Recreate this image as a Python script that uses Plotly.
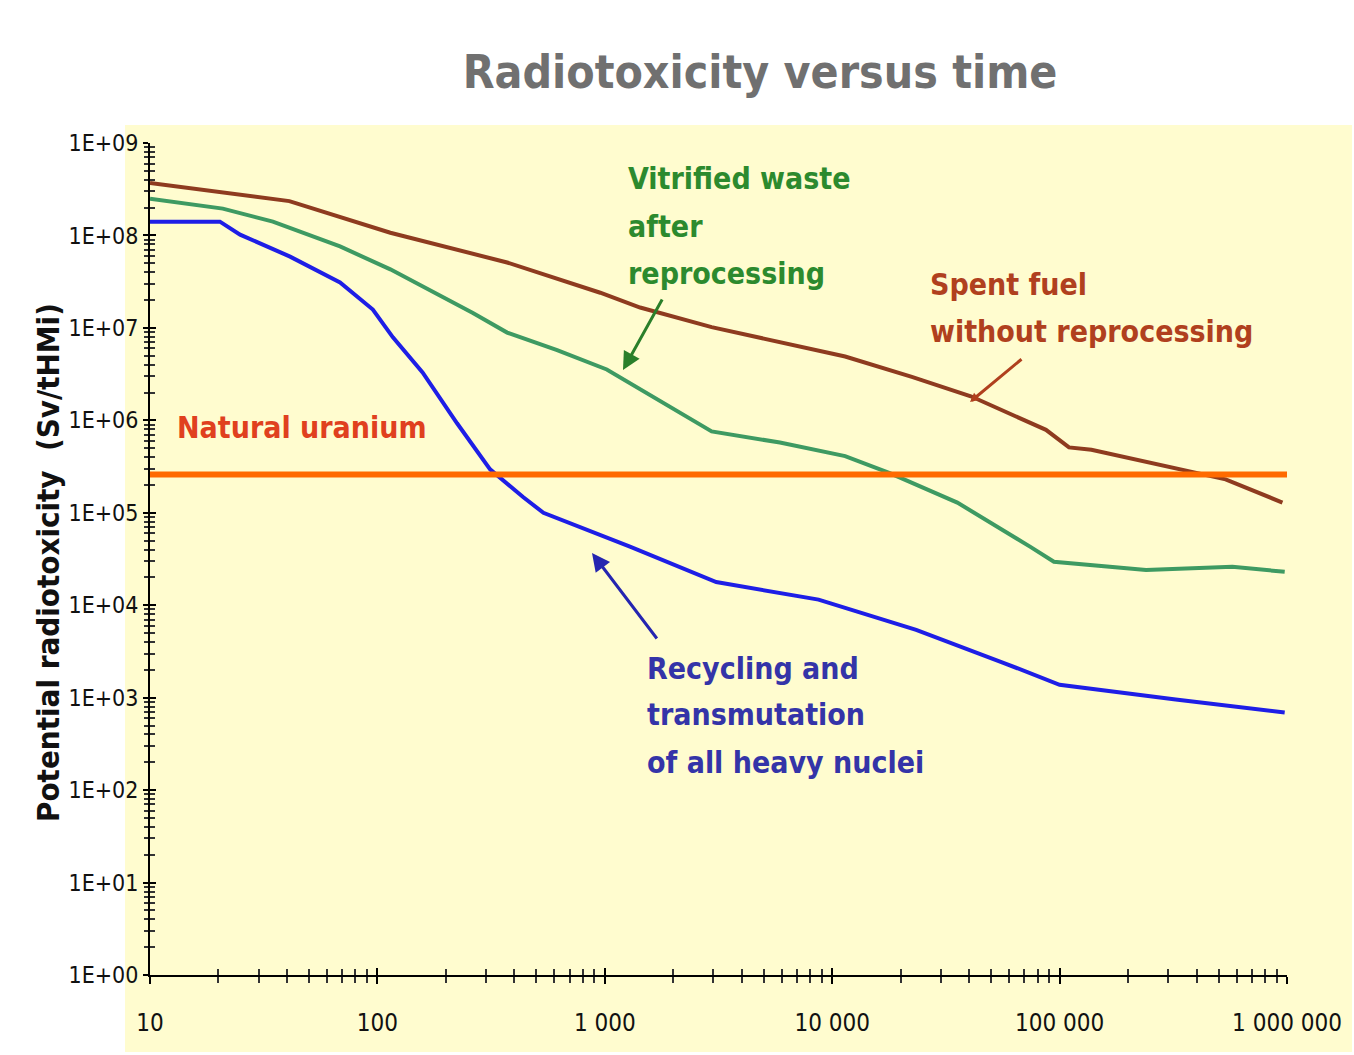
import plotly.graph_objects as go

# ---------------- data ----------------
spent_fuel_t = [10, 20.9, 41, 114, 372, 955, 1430, 2950, 11400, 22400, 40700, 87100, 110000, 138000, 339000, 537000, 955000]
spent_fuel_v = [3.7e8, 2.95e8, 2.35e8, 1.07e8, 5.1e7, 2.4e7, 1.66e7, 1.02e7, 4.9e6, 2.95e6, 1.82e6, 7.9e5, 5.1e5, 4.8e5, 2.95e5, 2.3e5, 1.29e5]

vitrified_t = [10, 20.9, 34.7, 68.5, 114, 263, 372, 617, 1020, 1510, 2950, 5890, 11400, 17800, 35500, 74100, 94400, 240000, 575000, 977000]
vitrified_v = [2.5e8, 1.95e8, 1.41e8, 7.6e7, 4.3e7, 1.45e7, 8.9e6, 5.75e6, 3.55e6, 2.0e6, 7.6e5, 5.75e5, 4.1e5, 2.7e5, 1.29e5, 4.3e4, 2.95e4, 2.4e4, 2.6e4, 2.3e4]

recycling_t = [10, 20.3, 24.9, 41.3, 68.5, 95.5, 117, 158, 224, 313, 437, 537, 1290, 3090, 8710, 23400, 56200, 100000, 324000, 977000]
recycling_v = [1.41e8, 1.41e8, 1.02e8, 5.9e7, 3.1e7, 1.58e7, 7.9e6, 3.3e6, 9.3e5, 2.95e5, 1.48e5, 1.0e5, 4.3e4, 1.78e4, 1.15e4, 5.4e3, 2.4e3, 1.38e3, 955, 692]

uranium_t = [10, 1000000]
uranium_v = [2.6e5, 2.6e5]

x_tick_vals = [10, 100, 1000, 10000, 100000, 1000000]
x_tick_text = ["10", "100", "1 000", "10 000", "100 000", "1 000 000"]
y_tick_vals = [1, 10, 100, 1e3, 1e4, 1e5, 1e6, 1e7, 1e8, 1e9]
y_tick_text = ["1E+00", "1E+01", "1E+02", "1E+03", "1E+04", "1E+05", "1E+06", "1E+07", "1E+08", "1E+09"]

# ---------------- style ----------------
FONT = "DejaVu Sans Condensed, Liberation Sans Narrow, Arial Narrow, Liberation Sans, sans-serif"
BG = "#FFFCCF"
W, H = 1354, 1055
L, R, T, B = 150, 67, 143, 80
PW, PH = W - L - R, H - T - B


def px(xp):
    return (xp - L) / PW


def py(yp):
    return (H - B - yp) / PH


fig = go.Figure()
fig.add_trace(go.Scatter(x=spent_fuel_t, y=spent_fuel_v, mode="lines",
                         line=dict(color="#8E3B1F", width=4), name="Spent fuel"))
fig.add_trace(go.Scatter(x=vitrified_t, y=vitrified_v, mode="lines",
                         line=dict(color="#3E9A62", width=4), name="Vitrified"))
fig.add_trace(go.Scatter(x=recycling_t, y=recycling_v, mode="lines",
                         line=dict(color="#1E1EE6", width=4), name="Recycling"))
fig.add_trace(go.Scatter(x=uranium_t, y=uranium_v, mode="lines",
                         line=dict(color="#FF6A00", width=6), name="Natural uranium"))
# helper trace for crossing-tick overlay axes
fig.add_trace(go.Scatter(x=[10], y=[1], xaxis="x2", yaxis="y2", mode="markers",
                         marker=dict(opacity=0), hoverinfo="skip", showlegend=False))

xtickfont = dict(family=FONT, size=24, color="#111111")
ytickfont = dict(family=FONT, size=23, color="#111111")

fig.update_layout(
    width=W, height=H,
    margin=dict(l=L, r=R, t=T, b=B, autoexpand=False),
    paper_bgcolor="white",
    plot_bgcolor=BG,
    showlegend=False,
    title=dict(text="<b>Radiotoxicity versus time</b>", x=760 / W, xanchor="center",
               y=1 - 72 / H, yanchor="middle",
               font=dict(family=FONT, size=46, color="#707070")),
    xaxis=dict(type="log", range=[1, 6], showgrid=False, zeroline=False, automargin=False,
               showline=True, linecolor="black", linewidth=2,
               ticks="outside", ticklen=7, tickwidth=2, tickcolor="black",
               tickvals=x_tick_vals, ticktext=x_tick_text, tickfont=xtickfont,
               ticklabelstandoff=18,
               minor=dict(ticks="outside", ticklen=6, tickwidth=1.5, tickcolor="#333333",
                          dtick="D1", showgrid=False)),
    yaxis=dict(type="log", range=[0, 9], showgrid=False, zeroline=False, automargin=False,
               showline=True, linecolor="black", linewidth=2,
               ticks="outside", ticklen=5, tickwidth=2, tickcolor="black",
               tickvals=y_tick_vals, ticktext=y_tick_text, tickfont=ytickfont,
               ticklabelstandoff=0,
               minor=dict(ticks="outside", ticklen=4, tickwidth=1.5, tickcolor="#333333",
                          dtick="D1", showgrid=False)),
    xaxis2=dict(type="log", range=[1, 6], overlaying="x", anchor="y2", side="bottom",
                showgrid=False, zeroline=False, showline=False, showticklabels=False,
                automargin=False,
                ticks="inside", ticklen=7, tickwidth=2, tickcolor="black",
                tickvals=x_tick_vals,
                minor=dict(ticks="inside", ticklen=6, tickwidth=1.5, tickcolor="#333333",
                           dtick="D1", showgrid=False)),
    yaxis2=dict(type="log", range=[0, 9], overlaying="y", anchor="x2", side="left",
                showgrid=False, zeroline=False, showline=False, showticklabels=False,
                automargin=False,
                ticks="inside", ticklen=6, tickwidth=2, tickcolor="black",
                tickvals=y_tick_vals,
                minor=dict(ticks="inside", ticklen=5, tickwidth=1.5, tickcolor="#333333",
                           dtick="D1", showgrid=False)),
)

# yellow panel behind everything
fig.add_shape(type="rect", xref="paper", yref="paper",
              x0=px(125), x1=px(1352), y0=py(1052), y1=py(125),
              fillcolor=BG, line=dict(width=0), layer="below")

annotations = []


def text(t, xl, yc, color, size=30):
    annotations.append(dict(text="<b>" + t + "</b>", xref="paper", yref="paper",
                            x=px(xl), y=py(yc), xanchor="left", yanchor="middle",
                            showarrow=False, font=dict(family=FONT, size=size, color=color)))


def arrow(hx, hy, tx, ty, color, head=2, size=1.2, width=3):
    annotations.append(dict(text="", xref="paper", yref="paper", x=px(hx), y=py(hy),
                            ax=tx - hx, ay=ty - hy, axref="pixel", ayref="pixel",
                            showarrow=True, arrowhead=head, arrowsize=size,
                            arrowwidth=width, arrowcolor=color))


GREEN_T = "#2C8A2E"
BROWN_T = "#B0401E"
RED_T = "#E0401E"
BLUE_T = "#3434A8"

text("Vitrified waste", 626, 178, GREEN_T)
text("after", 626, 226, GREEN_T)
text("reprocessing", 626, 273, GREEN_T)
text("Spent fuel", 928, 284, BROWN_T)
text("without reprocessing", 928, 331, BROWN_T)
text("Natural uranium", 175, 427, RED_T)
text("Recycling and", 645, 668, BLUE_T)
text("transmutation", 645, 714, BLUE_T)
text("of all heavy nuclei", 645, 762, BLUE_T)

arrow(623, 370, 663, 298, "#2A7F2A")
arrow(970, 402, 1023, 358, "#B0401E", head=2, size=0.6, width=3)
arrow(592, 553, 658, 640, "#2525B0")

# y-axis title
annotations.append(dict(text="<b>Potential radiotoxicity  (Sv/tHMi)</b>", xref="paper", yref="paper",
                        x=px(48), y=py(563), xanchor="center", yanchor="middle",
                        textangle=-90, showarrow=False,
                        font=dict(family=FONT, size=31, color="#111111")))

fig.update_layout(annotations=annotations)

fig.write_html("out.html", config={"displayModeBar": False},
               post_script="document.body.style.margin='0px';")
